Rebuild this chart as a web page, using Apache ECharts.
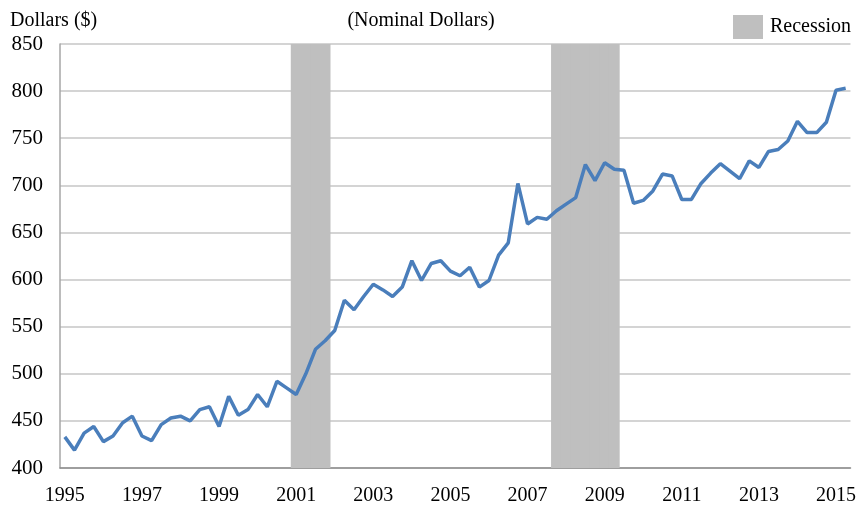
<!DOCTYPE html>
<html>
<head>
<meta charset="utf-8">
<script src="https://cdn.jsdelivr.net/npm/echarts@6/dist/echarts.min.js"></script>
<style>
  html, body { margin: 0; padding: 0; background: #fff; }
  #chart { width: 859px; height: 516px; }
</style>
</head>
<body>
<div id="chart"></div>
<script>
// quarters 1995Q1 .. 2015Q2
const years = [1995, 1996, 1997, 1998, 1999, 2000, 2001, 2002, 2003, 2004,
  2005, 2006, 2007, 2008, 2009, 2010, 2011, 2012, 2013, 2014, 2015]
const quarters = []
years.forEach(y => {
  ['Q1', 'Q2', 'Q3', 'Q4'].forEach(q => {
    if (y === 2015 && (q === 'Q3' || q === 'Q4')) return
    quarters.push(y + q)
  })
})

// median weekly earnings (nominal dollars)
const earnings = [
  433, 419, 437, 444, 428, 434, 448, 455, 434, 429,
  446, 453, 455, 450, 462, 465, 444, 476, 456, 462,
  478, 465, 492, 485, 478, 500, 526, 535, 546, 578,
  568, 582, 595, 589, 582, 592, 620, 599, 617, 620,
  609, 604, 613, 592, 599, 626, 639, 702, 659, 666,
  664, 673, 680, 687, 722, 705, 724, 717, 716, 681,
  684, 694, 712, 710, 685, 685, 702, 713, 723, 715,
  707, 726, 719, 736, 738, 747, 768, 756, 756, 767,
  801, 803
]

// recession periods (first and last quarter shaded)
const recessionStart = ['2001Q1', '2007Q4']
const recessionEnd = ['2001Q4', '2009Q2']

const yTicks = { min: 400, max: 850, interval: 50 }

const recession = quarters.map((q, i) => {
  for (let k = 0; k < recessionStart.length; k++) {
    if (i >= quarters.indexOf(recessionStart[k]) && i <= quarters.indexOf(recessionEnd[k])) return yTicks.max
  }
  return '-'
})

const serif = '"Liberation Serif", "Times New Roman", serif'

const chart = echarts.init(document.getElementById('chart'))
chart.setOption({
  animation: false,
  textStyle: { fontFamily: serif },
  title: [
    {
      text: '(Nominal Dollars)',
      left: 416, top: 6, textAlign: 'center',
      textStyle: { fontFamily: serif, fontSize: 20, fontWeight: 'normal', color: '#000' }
    },
    {
      text: 'Dollars ($)',
      left: 5, top: 6,
      textStyle: { fontFamily: serif, fontSize: 20, fontWeight: 'normal', color: '#000' }
    }
  ],
  legend: {
    data: ['Recession'],
    left: 728, top: 10,
    itemWidth: 30, itemHeight: 24, itemGap: 6,
    icon: 'rect',
    textStyle: { fontFamily: serif, fontSize: 20, color: '#000', padding: [0, 0, 0, 2] }
  },
  grid: { left: 60, right: 6, top: 44, bottom: 48 },
  xAxis: {
    type: 'category',
    data: quarters,
    boundaryGap: true,
    axisLine: { lineStyle: { color: '#8c8c8c', width: 1.5 } },
    axisTick: { show: false },
    axisLabel: {
      interval: 7,
      margin: 18,
      fontFamily: serif, fontSize: 20, color: '#000',
      formatter: v => v.slice(0, 4)
    }
  },
  yAxis: {
    type: 'value',
    min: yTicks.min, max: yTicks.max, interval: yTicks.interval,
    axisLine: { show: true, lineStyle: { color: '#a6a6a6', width: 1.5 } },
    axisTick: { show: false },
    splitLine: { lineStyle: { color: '#d4d4d4', width: 2 } },
    axisLabel: { margin: 17, fontFamily: serif, fontSize: 21, color: '#000' }
  },
  series: [
    {
      name: 'Recession',
      type: 'bar',
      data: recession,
      barWidth: '112%',
      itemStyle: { color: '#bfbfbf' },
      silent: true,
      z: 1
    },
    {
      name: 'Earnings',
      type: 'line',
      data: earnings,
      showSymbol: false,
      lineStyle: { color: '#4a7ebb', width: 3.5 },
      itemStyle: { color: '#4a7ebb' },
      z: 3
    }
  ]
})
</script>
</body>
</html>
